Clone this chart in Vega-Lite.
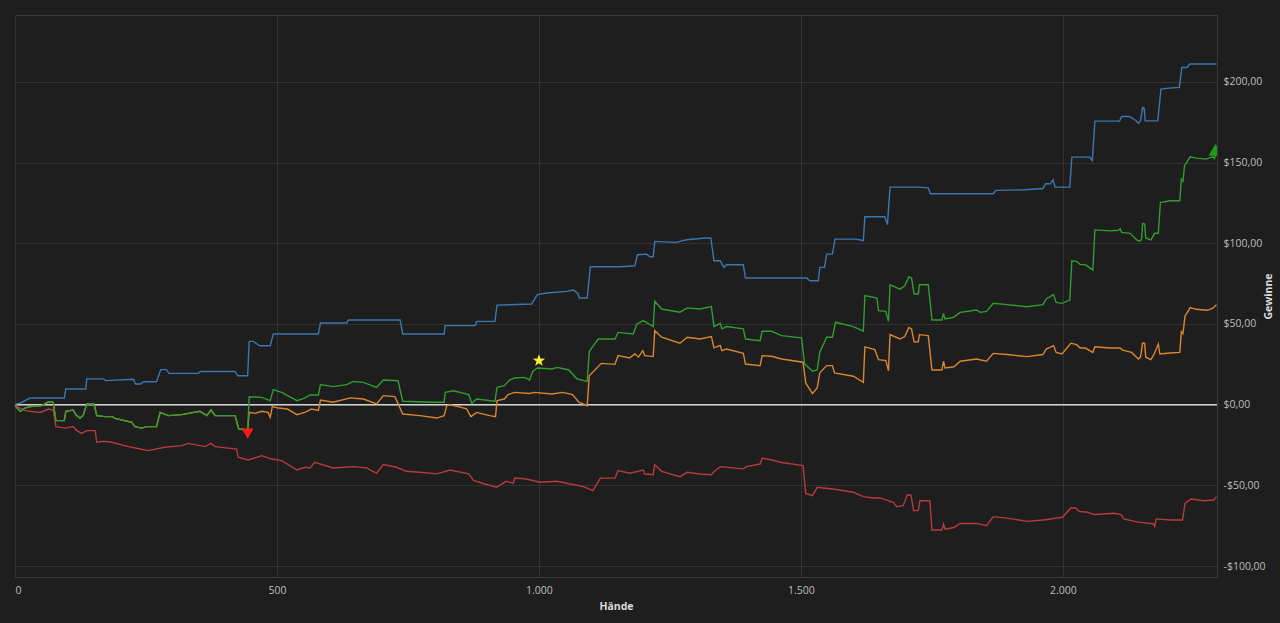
{
  "$schema": "https://vega.github.io/schema/vega-lite/v6.json",
  "width": 1202,
  "height": 562,
  "autosize": "none",
  "padding": {"left": 15, "top": 15, "right": 63, "bottom": 46},
  "background": "#1e1e1e",
  "datasets": {
    "kurven": [
      {"s": "All-in EV", "h": 0, "v": -0.6}, {"s": "All-in EV", "h": 10, "v": -4.1}, {"s": "All-in EV", "h": 19, "v": -2.1}, {"s": "All-in EV", "h": 29, "v": -1.2}, {"s": "All-in EV", "h": 51, "v": -0.6}, {"s": "All-in EV", "h": 64, "v": 1.8}, {"s": "All-in EV", "h": 73, "v": 1.4}, {"s": "All-in EV", "h": 78, "v": -9.9}, {"s": "All-in EV", "h": 94, "v": -9.9}, {"s": "All-in EV", "h": 97, "v": -4.1}, {"s": "All-in EV", "h": 111, "v": -3.3}, {"s": "All-in EV", "h": 116, "v": -6.2}, {"s": "All-in EV", "h": 124, "v": -8.3}, {"s": "All-in EV", "h": 130, "v": -6.8}, {"s": "All-in EV", "h": 137, "v": 0.4}, {"s": "All-in EV", "h": 151, "v": 0.4}, {"s": "All-in EV", "h": 156, "v": -6.8}, {"s": "All-in EV", "h": 172, "v": -7.4}, {"s": "All-in EV", "h": 185, "v": -7.4}, {"s": "All-in EV", "h": 191, "v": -8.5}, {"s": "All-in EV", "h": 223, "v": -11}, {"s": "All-in EV", "h": 229, "v": -13.6}, {"s": "All-in EV", "h": 242, "v": -14.5}, {"s": "All-in EV", "h": 251, "v": -13.6}, {"s": "All-in EV", "h": 270, "v": -13.6}, {"s": "All-in EV", "h": 277, "v": -4.8}, {"s": "All-in EV", "h": 293, "v": -6.8}, {"s": "All-in EV", "h": 318, "v": -6.2}, {"s": "All-in EV", "h": 353, "v": -4.1}, {"s": "All-in EV", "h": 366, "v": -6.8}, {"s": "All-in EV", "h": 374, "v": -3.3}, {"s": "All-in EV", "h": 382, "v": -6.8}, {"s": "All-in EV", "h": 420, "v": -6.8}, {"s": "All-in EV", "h": 427, "v": -15.1}, {"s": "All-in EV", "h": 444, "v": -15.7},
      {"s": "All-in EV", "h": 447, "v": -4.8}, {"s": "All-in EV", "h": 458, "v": -5.4}, {"s": "All-in EV", "h": 471, "v": -4.1}, {"s": "All-in EV", "h": 483, "v": -4.8}, {"s": "All-in EV", "h": 487, "v": -7.9}, {"s": "All-in EV", "h": 491, "v": -1.2}, {"s": "All-in EV", "h": 503, "v": -2.1}, {"s": "All-in EV", "h": 520, "v": -2.7}, {"s": "All-in EV", "h": 538, "v": -6.2}, {"s": "All-in EV", "h": 553, "v": -4.8}, {"s": "All-in EV", "h": 566, "v": -2.7}, {"s": "All-in EV", "h": 579, "v": -3.6}, {"s": "All-in EV", "h": 583, "v": 2.9}, {"s": "All-in EV", "h": 607, "v": 1.5}, {"s": "All-in EV", "h": 640, "v": 4.2}, {"s": "All-in EV", "h": 665, "v": 3.5}, {"s": "All-in EV", "h": 690, "v": 0.4}, {"s": "All-in EV", "h": 703, "v": 5.6}, {"s": "All-in EV", "h": 725, "v": 5}, {"s": "All-in EV", "h": 740, "v": -5.8}, {"s": "All-in EV", "h": 773, "v": -6.8}, {"s": "All-in EV", "h": 805, "v": -8.3}, {"s": "All-in EV", "h": 819, "v": -6.8}, {"s": "All-in EV", "h": 824, "v": -0.6}, {"s": "All-in EV", "h": 830, "v": 0}, {"s": "All-in EV", "h": 862, "v": -2.6}, {"s": "All-in EV", "h": 870, "v": -7.4}, {"s": "All-in EV", "h": 881, "v": -4.8}, {"s": "All-in EV", "h": 906, "v": -6.8}, {"s": "All-in EV", "h": 917, "v": -7.4}, {"s": "All-in EV", "h": 920, "v": 2.5}, {"s": "All-in EV", "h": 934, "v": 3.5}, {"s": "All-in EV", "h": 941, "v": 6.2}, {"s": "All-in EV", "h": 953, "v": 7.6}, {"s": "All-in EV", "h": 982, "v": 6.9}, {"s": "All-in EV", "h": 991, "v": 7.6}, {"s": "All-in EV", "h": 1025, "v": 6.6}, {"s": "All-in EV", "h": 1045, "v": 7.6}, {"s": "All-in EV", "h": 1064, "v": 6.2}, {"s": "All-in EV", "h": 1076, "v": 1.5}, {"s": "All-in EV", "h": 1092, "v": -0.6}, {"s": "All-in EV", "h": 1096, "v": 17.9}, {"s": "All-in EV", "h": 1119, "v": 25.6}, {"s": "All-in EV", "h": 1145, "v": 25}, {"s": "All-in EV", "h": 1151, "v": 30.4}, {"s": "All-in EV", "h": 1173, "v": 29}, {"s": "All-in EV", "h": 1183, "v": 31.4}, {"s": "All-in EV", "h": 1190, "v": 29.5}, {"s": "All-in EV", "h": 1198, "v": 33.5}, {"s": "All-in EV", "h": 1202, "v": 30.4}, {"s": "All-in EV", "h": 1218, "v": 29.8}, {"s": "All-in EV", "h": 1221, "v": 45.9}, {"s": "All-in EV", "h": 1234, "v": 41.8}, {"s": "All-in EV", "h": 1269, "v": 38.1}, {"s": "All-in EV", "h": 1283, "v": 41.8}, {"s": "All-in EV", "h": 1307, "v": 40.7}, {"s": "All-in EV", "h": 1329, "v": 42.2}, {"s": "All-in EV", "h": 1334, "v": 35.2}, {"s": "All-in EV", "h": 1346, "v": 36.7}, {"s": "All-in EV", "h": 1349, "v": 33.5}, {"s": "All-in EV", "h": 1358, "v": 34.5}, {"s": "All-in EV", "h": 1390, "v": 31.9}, {"s": "All-in EV", "h": 1394, "v": 25.2}, {"s": "All-in EV", "h": 1422, "v": 24.2}, {"s": "All-in EV", "h": 1426, "v": 30.4}, {"s": "All-in EV", "h": 1444, "v": 30}, {"s": "All-in EV", "h": 1463, "v": 28.3}, {"s": "All-in EV", "h": 1504, "v": 26.3}, {"s": "All-in EV", "h": 1509, "v": 13.5}, {"s": "All-in EV", "h": 1522, "v": 6.9}, {"s": "All-in EV", "h": 1531, "v": 10.4}, {"s": "All-in EV", "h": 1536, "v": 19.7}, {"s": "All-in EV", "h": 1549, "v": 24.2}, {"s": "All-in EV", "h": 1560, "v": 24.2}, {"s": "All-in EV", "h": 1564, "v": 19.7}, {"s": "All-in EV", "h": 1600, "v": 17.6}, {"s": "All-in EV", "h": 1619, "v": 13.9}, {"s": "All-in EV", "h": 1622, "v": 35.8}, {"s": "All-in EV", "h": 1641, "v": 34.1}, {"s": "All-in EV", "h": 1648, "v": 27.9}, {"s": "All-in EV", "h": 1662, "v": 27.3}, {"s": "All-in EV", "h": 1667, "v": 21}, {"s": "All-in EV", "h": 1670, "v": 43.4}, {"s": "All-in EV", "h": 1689, "v": 40.7}, {"s": "All-in EV", "h": 1698, "v": 42.2}, {"s": "All-in EV", "h": 1706, "v": 47.9}, {"s": "All-in EV", "h": 1711, "v": 47}, {"s": "All-in EV", "h": 1716, "v": 38.9}, {"s": "All-in EV", "h": 1724, "v": 38.9}, {"s": "All-in EV", "h": 1726, "v": 43.4}, {"s": "All-in EV", "h": 1743, "v": 42.8}, {"s": "All-in EV", "h": 1750, "v": 21.5}, {"s": "All-in EV", "h": 1769, "v": 21.5}, {"s": "All-in EV", "h": 1772, "v": 26.9}, {"s": "All-in EV", "h": 1775, "v": 22.7}, {"s": "All-in EV", "h": 1792, "v": 23.5}, {"s": "All-in EV", "h": 1804, "v": 26.9}, {"s": "All-in EV", "h": 1835, "v": 28.3}, {"s": "All-in EV", "h": 1854, "v": 26.9}, {"s": "All-in EV", "h": 1867, "v": 31.8}, {"s": "All-in EV", "h": 1893, "v": 31.1}, {"s": "All-in EV", "h": 1931, "v": 29.8}, {"s": "All-in EV", "h": 1962, "v": 31.1}, {"s": "All-in EV", "h": 1968, "v": 34.5}, {"s": "All-in EV", "h": 1982, "v": 36.6}, {"s": "All-in EV", "h": 1987, "v": 32.4}, {"s": "All-in EV", "h": 1998, "v": 31.4}, {"s": "All-in EV", "h": 2015, "v": 38.1}, {"s": "All-in EV", "h": 2026, "v": 37.2}, {"s": "All-in EV", "h": 2033, "v": 35.1}, {"s": "All-in EV", "h": 2043, "v": 35.1}, {"s": "All-in EV", "h": 2057, "v": 32.4}, {"s": "All-in EV", "h": 2061, "v": 35.9}, {"s": "All-in EV", "h": 2090, "v": 35.1}, {"s": "All-in EV", "h": 2109, "v": 35.1}, {"s": "All-in EV", "h": 2114, "v": 33.8}, {"s": "All-in EV", "h": 2131, "v": 32.4}, {"s": "All-in EV", "h": 2144, "v": 28.3}, {"s": "All-in EV", "h": 2148, "v": 29.5}, {"s": "All-in EV", "h": 2152, "v": 38.2}, {"s": "All-in EV", "h": 2156, "v": 38}, {"s": "All-in EV", "h": 2158, "v": 29.4}, {"s": "All-in EV", "h": 2168, "v": 27.9}, {"s": "All-in EV", "h": 2175, "v": 32}, {"s": "All-in EV", "h": 2182, "v": 37.6}, {"s": "All-in EV", "h": 2185, "v": 31.4}, {"s": "All-in EV", "h": 2204, "v": 32}, {"s": "All-in EV", "h": 2223, "v": 32.4}, {"s": "All-in EV", "h": 2226, "v": 45.2}, {"s": "All-in EV", "h": 2229, "v": 44}, {"s": "All-in EV", "h": 2233, "v": 54.9}, {"s": "All-in EV", "h": 2243, "v": 60.2}, {"s": "All-in EV", "h": 2254, "v": 59.1}, {"s": "All-in EV", "h": 2276, "v": 58.5}, {"s": "All-in EV", "h": 2286, "v": 59.8}, {"s": "All-in EV", "h": 2293, "v": 61.9},

      {"s": "Ohne Showdown", "h": 0, "v": -0.6}, {"s": "Ohne Showdown", "h": 19, "v": -3.7}, {"s": "Ohne Showdown", "h": 48, "v": -4.8}, {"s": "Ohne Showdown", "h": 64, "v": -2.7}, {"s": "Ohne Showdown", "h": 73, "v": -3.3}, {"s": "Ohne Showdown", "h": 78, "v": -13.6}, {"s": "Ohne Showdown", "h": 95, "v": -14.5}, {"s": "Ohne Showdown", "h": 111, "v": -13.6}, {"s": "Ohne Showdown", "h": 118, "v": -16.1}, {"s": "Ohne Showdown", "h": 127, "v": -17.8}, {"s": "Ohne Showdown", "h": 137, "v": -16.1}, {"s": "Ohne Showdown", "h": 153, "v": -16.1}, {"s": "Ohne Showdown", "h": 156, "v": -23.3}, {"s": "Ohne Showdown", "h": 169, "v": -22.7}, {"s": "Ohne Showdown", "h": 185, "v": -23.3}, {"s": "Ohne Showdown", "h": 216, "v": -26}, {"s": "Ohne Showdown", "h": 239, "v": -27.5}, {"s": "Ohne Showdown", "h": 254, "v": -28.5}, {"s": "Ohne Showdown", "h": 286, "v": -26.4}, {"s": "Ohne Showdown", "h": 318, "v": -25.4}, {"s": "Ohne Showdown", "h": 331, "v": -24}, {"s": "Ohne Showdown", "h": 363, "v": -26}, {"s": "Ohne Showdown", "h": 374, "v": -24}, {"s": "Ohne Showdown", "h": 382, "v": -26}, {"s": "Ohne Showdown", "h": 423, "v": -27.5}, {"s": "Ohne Showdown", "h": 426, "v": -32.6}, {"s": "Ohne Showdown", "h": 445, "v": -34.3}, {"s": "Ohne Showdown", "h": 471, "v": -31.6}, {"s": "Ohne Showdown", "h": 490, "v": -33.7}, {"s": "Ohne Showdown", "h": 509, "v": -34.7}, {"s": "Ohne Showdown", "h": 538, "v": -40.5}, {"s": "Ohne Showdown", "h": 553, "v": -38.8}, {"s": "Ohne Showdown", "h": 563, "v": -39.2}, {"s": "Ohne Showdown", "h": 572, "v": -35.7}, {"s": "Ohne Showdown", "h": 607, "v": -39.2}, {"s": "Ohne Showdown", "h": 646, "v": -38.4}, {"s": "Ohne Showdown", "h": 671, "v": -39.2}, {"s": "Ohne Showdown", "h": 690, "v": -42.5}, {"s": "Ohne Showdown", "h": 703, "v": -37.1}, {"s": "Ohne Showdown", "h": 728, "v": -38.8}, {"s": "Ohne Showdown", "h": 747, "v": -41.3}, {"s": "Ohne Showdown", "h": 773, "v": -41.9}, {"s": "Ohne Showdown", "h": 805, "v": -42.9}, {"s": "Ohne Showdown", "h": 830, "v": -40.5}, {"s": "Ohne Showdown", "h": 866, "v": -42.9}, {"s": "Ohne Showdown", "h": 875, "v": -47}, {"s": "Ohne Showdown", "h": 900, "v": -49.5}, {"s": "Ohne Showdown", "h": 919, "v": -51.2}, {"s": "Ohne Showdown", "h": 937, "v": -47.5}, {"s": "Ohne Showdown", "h": 951, "v": -48.7}, {"s": "Ohne Showdown", "h": 954, "v": -45.5}, {"s": "Ohne Showdown", "h": 976, "v": -46.1}, {"s": "Ohne Showdown", "h": 1002, "v": -48.1}, {"s": "Ohne Showdown", "h": 1034, "v": -47.5}, {"s": "Ohne Showdown", "h": 1053, "v": -48.7}, {"s": "Ohne Showdown", "h": 1085, "v": -50.8}, {"s": "Ohne Showdown", "h": 1103, "v": -53.3}, {"s": "Ohne Showdown", "h": 1117, "v": -45.5}, {"s": "Ohne Showdown", "h": 1145, "v": -45.5}, {"s": "Ohne Showdown", "h": 1151, "v": -40.9}, {"s": "Ohne Showdown", "h": 1173, "v": -42.5}, {"s": "Ohne Showdown", "h": 1199, "v": -40.5}, {"s": "Ohne Showdown", "h": 1202, "v": -43}, {"s": "Ohne Showdown", "h": 1218, "v": -43.4}, {"s": "Ohne Showdown", "h": 1221, "v": -37.2}, {"s": "Ohne Showdown", "h": 1234, "v": -41.3}, {"s": "Ohne Showdown", "h": 1269, "v": -44.6}, {"s": "Ohne Showdown", "h": 1283, "v": -41.9}, {"s": "Ohne Showdown", "h": 1307, "v": -43}, {"s": "Ohne Showdown", "h": 1329, "v": -43.4}, {"s": "Ohne Showdown", "h": 1335, "v": -41.3}, {"s": "Ohne Showdown", "h": 1346, "v": -38.4}, {"s": "Ohne Showdown", "h": 1371, "v": -39.2}, {"s": "Ohne Showdown", "h": 1390, "v": -39.8}, {"s": "Ohne Showdown", "h": 1396, "v": -38.4}, {"s": "Ohne Showdown", "h": 1422, "v": -36.8}, {"s": "Ohne Showdown", "h": 1426, "v": -33.1}, {"s": "Ohne Showdown", "h": 1444, "v": -34.3}, {"s": "Ohne Showdown", "h": 1463, "v": -35.8}, {"s": "Ohne Showdown", "h": 1504, "v": -37.8}, {"s": "Ohne Showdown", "h": 1509, "v": -55}, {"s": "Ohne Showdown", "h": 1522, "v": -56.4}, {"s": "Ohne Showdown", "h": 1531, "v": -51.2}, {"s": "Ohne Showdown", "h": 1560, "v": -52.3}, {"s": "Ohne Showdown", "h": 1600, "v": -54.3}, {"s": "Ohne Showdown", "h": 1619, "v": -57}, {"s": "Ohne Showdown", "h": 1638, "v": -57.8}, {"s": "Ohne Showdown", "h": 1651, "v": -57.8}, {"s": "Ohne Showdown", "h": 1676, "v": -60.5}, {"s": "Ohne Showdown", "h": 1683, "v": -63.2}, {"s": "Ohne Showdown", "h": 1695, "v": -62.6}, {"s": "Ohne Showdown", "h": 1703, "v": -55.8}, {"s": "Ohne Showdown", "h": 1710, "v": -56}, {"s": "Ohne Showdown", "h": 1715, "v": -65.7}, {"s": "Ohne Showdown", "h": 1724, "v": -65.5}, {"s": "Ohne Showdown", "h": 1727, "v": -59.5}, {"s": "Ohne Showdown", "h": 1746, "v": -59.5}, {"s": "Ohne Showdown", "h": 1750, "v": -77.7}, {"s": "Ohne Showdown", "h": 1769, "v": -77.7}, {"s": "Ohne Showdown", "h": 1772, "v": -74}, {"s": "Ohne Showdown", "h": 1775, "v": -77.1}, {"s": "Ohne Showdown", "h": 1792, "v": -76.1}, {"s": "Ohne Showdown", "h": 1804, "v": -73.6}, {"s": "Ohne Showdown", "h": 1835, "v": -73.6}, {"s": "Ohne Showdown", "h": 1854, "v": -75}, {"s": "Ohne Showdown", "h": 1867, "v": -69.4}, {"s": "Ohne Showdown", "h": 1893, "v": -70.3}, {"s": "Ohne Showdown", "h": 1931, "v": -72.3}, {"s": "Ohne Showdown", "h": 1962, "v": -71.5}, {"s": "Ohne Showdown", "h": 1999, "v": -69.8}, {"s": "Ohne Showdown", "h": 2015, "v": -64}, {"s": "Ohne Showdown", "h": 2024, "v": -64}, {"s": "Ohne Showdown", "h": 2031, "v": -66.1}, {"s": "Ohne Showdown", "h": 2047, "v": -66.7}, {"s": "Ohne Showdown", "h": 2060, "v": -68.1}, {"s": "Ohne Showdown", "h": 2098, "v": -67.3}, {"s": "Ohne Showdown", "h": 2111, "v": -68.1}, {"s": "Ohne Showdown", "h": 2116, "v": -70.8}, {"s": "Ohne Showdown", "h": 2143, "v": -72.8}, {"s": "Ohne Showdown", "h": 2172, "v": -73.8}, {"s": "Ohne Showdown", "h": 2175, "v": -75.5}, {"s": "Ohne Showdown", "h": 2178, "v": -70.8}, {"s": "Ohne Showdown", "h": 2206, "v": -71.5}, {"s": "Ohne Showdown", "h": 2228, "v": -71.5}, {"s": "Ohne Showdown", "h": 2233, "v": -61.2}, {"s": "Ohne Showdown", "h": 2244, "v": -58.5}, {"s": "Ohne Showdown", "h": 2269, "v": -59.5}, {"s": "Ohne Showdown", "h": 2288, "v": -59.1}, {"s": "Ohne Showdown", "h": 2293, "v": -57},

      {"s": "Showdown", "h": 0, "v": 0}, {"s": "Showdown", "h": 13, "v": 1.4}, {"s": "Showdown", "h": 18, "v": 2.4}, {"s": "Showdown", "h": 29, "v": 4.1}, {"s": "Showdown", "h": 94, "v": 4.1}, {"s": "Showdown", "h": 97, "v": 9.7}, {"s": "Showdown", "h": 135, "v": 9.7}, {"s": "Showdown", "h": 137, "v": 16}, {"s": "Showdown", "h": 169, "v": 16}, {"s": "Showdown", "h": 173, "v": 14.9}, {"s": "Showdown", "h": 226, "v": 15.7}, {"s": "Showdown", "h": 230, "v": 12.8}, {"s": "Showdown", "h": 240, "v": 12.8}, {"s": "Showdown", "h": 245, "v": 14.2}, {"s": "Showdown", "h": 270, "v": 14.2}, {"s": "Showdown", "h": 278, "v": 21.7}, {"s": "Showdown", "h": 289, "v": 21.7}, {"s": "Showdown", "h": 294, "v": 19.4}, {"s": "Showdown", "h": 350, "v": 19.4}, {"s": "Showdown", "h": 354, "v": 20.6}, {"s": "Showdown", "h": 420, "v": 20.6}, {"s": "Showdown", "h": 425, "v": 17.9}, {"s": "Showdown", "h": 444, "v": 17.9}, {"s": "Showdown", "h": 447, "v": 39.2}, {"s": "Showdown", "h": 455, "v": 39.2}, {"s": "Showdown", "h": 467, "v": 36.5}, {"s": "Showdown", "h": 487, "v": 36.5}, {"s": "Showdown", "h": 493, "v": 43.8}, {"s": "Showdown", "h": 579, "v": 43.8}, {"s": "Showdown", "h": 583, "v": 50.6}, {"s": "Showdown", "h": 633, "v": 50.6}, {"s": "Showdown", "h": 636, "v": 52.5}, {"s": "Showdown", "h": 735, "v": 52.5}, {"s": "Showdown", "h": 740, "v": 43.8}, {"s": "Showdown", "h": 819, "v": 43.8}, {"s": "Showdown", "h": 821, "v": 49}, {"s": "Showdown", "h": 878, "v": 49}, {"s": "Showdown", "h": 881, "v": 51.6}, {"s": "Showdown", "h": 916, "v": 51.6}, {"s": "Showdown", "h": 920, "v": 61.7}, {"s": "Showdown", "h": 986, "v": 62.4}, {"s": "Showdown", "h": 997, "v": 68.2}, {"s": "Showdown", "h": 1015, "v": 69.2}, {"s": "Showdown", "h": 1053, "v": 70.2}, {"s": "Showdown", "h": 1066, "v": 71}, {"s": "Showdown", "h": 1075, "v": 68.6}, {"s": "Showdown", "h": 1077, "v": 66.1}, {"s": "Showdown", "h": 1092, "v": 66.1}, {"s": "Showdown", "h": 1098, "v": 85.5}, {"s": "Showdown", "h": 1155, "v": 85.5}, {"s": "Showdown", "h": 1183, "v": 86.1}, {"s": "Showdown", "h": 1188, "v": 92.9}, {"s": "Showdown", "h": 1205, "v": 93.3}, {"s": "Showdown", "h": 1212, "v": 91.7}, {"s": "Showdown", "h": 1218, "v": 91.7}, {"s": "Showdown", "h": 1221, "v": 101.2}, {"s": "Showdown", "h": 1262, "v": 100.6}, {"s": "Showdown", "h": 1282, "v": 102.2}, {"s": "Showdown", "h": 1317, "v": 103.3}, {"s": "Showdown", "h": 1328, "v": 103.3}, {"s": "Showdown", "h": 1334, "v": 89.2}, {"s": "Showdown", "h": 1346, "v": 89.2}, {"s": "Showdown", "h": 1353, "v": 85.1}, {"s": "Showdown", "h": 1358, "v": 86.7}, {"s": "Showdown", "h": 1390, "v": 86.7}, {"s": "Showdown", "h": 1394, "v": 78.5}, {"s": "Showdown", "h": 1511, "v": 78.5}, {"s": "Showdown", "h": 1517, "v": 76.8}, {"s": "Showdown", "h": 1533, "v": 76.8}, {"s": "Showdown", "h": 1536, "v": 85.1}, {"s": "Showdown", "h": 1545, "v": 85.1}, {"s": "Showdown", "h": 1549, "v": 93.3}, {"s": "Showdown", "h": 1560, "v": 93.3}, {"s": "Showdown", "h": 1565, "v": 102.6}, {"s": "Showdown", "h": 1606, "v": 102.6}, {"s": "Showdown", "h": 1619, "v": 101.6}, {"s": "Showdown", "h": 1622, "v": 116.5}, {"s": "Showdown", "h": 1660, "v": 116.5}, {"s": "Showdown", "h": 1665, "v": 111.6}, {"s": "Showdown", "h": 1670, "v": 134.8}, {"s": "Showdown", "h": 1724, "v": 134.8}, {"s": "Showdown", "h": 1743, "v": 134.4}, {"s": "Showdown", "h": 1747, "v": 130.7}, {"s": "Showdown", "h": 1867, "v": 130.7}, {"s": "Showdown", "h": 1872, "v": 132.8}, {"s": "Showdown", "h": 1927, "v": 133.2}, {"s": "Showdown", "h": 1962, "v": 134}, {"s": "Showdown", "h": 1967, "v": 136.9}, {"s": "Showdown", "h": 1976, "v": 136.9}, {"s": "Showdown", "h": 1981, "v": 139.4}, {"s": "Showdown", "h": 1985, "v": 134.8}, {"s": "Showdown", "h": 2013, "v": 134.8}, {"s": "Showdown", "h": 2017, "v": 153.4}, {"s": "Showdown", "h": 2051, "v": 153.4}, {"s": "Showdown", "h": 2056, "v": 151.3}, {"s": "Showdown", "h": 2061, "v": 175.7}, {"s": "Showdown", "h": 2108, "v": 175.7}, {"s": "Showdown", "h": 2112, "v": 178.6}, {"s": "Showdown", "h": 2127, "v": 178.6}, {"s": "Showdown", "h": 2139, "v": 176.1}, {"s": "Showdown", "h": 2144, "v": 174.5}, {"s": "Showdown", "h": 2148, "v": 176}, {"s": "Showdown", "h": 2152, "v": 184.2}, {"s": "Showdown", "h": 2155, "v": 183.8}, {"s": "Showdown", "h": 2157, "v": 175.9}, {"s": "Showdown", "h": 2181, "v": 175.9}, {"s": "Showdown", "h": 2187, "v": 195.6}, {"s": "Showdown", "h": 2203, "v": 196.2}, {"s": "Showdown", "h": 2222, "v": 196.6}, {"s": "Showdown", "h": 2227, "v": 209}, {"s": "Showdown", "h": 2237, "v": 209}, {"s": "Showdown", "h": 2242, "v": 211.1}, {"s": "Showdown", "h": 2293, "v": 211.1},

      {"s": "Gewinne", "h": 0, "v": -0.6}, {"s": "Gewinne", "h": 10, "v": -4.1}, {"s": "Gewinne", "h": 19, "v": -2.1}, {"s": "Gewinne", "h": 29, "v": -1.2}, {"s": "Gewinne", "h": 51, "v": -0.6}, {"s": "Gewinne", "h": 64, "v": 1.8}, {"s": "Gewinne", "h": 73, "v": 1.4}, {"s": "Gewinne", "h": 78, "v": -9.9}, {"s": "Gewinne", "h": 94, "v": -9.9}, {"s": "Gewinne", "h": 97, "v": -4.1}, {"s": "Gewinne", "h": 111, "v": -3.3}, {"s": "Gewinne", "h": 116, "v": -6.2}, {"s": "Gewinne", "h": 124, "v": -8.3}, {"s": "Gewinne", "h": 130, "v": -6.8}, {"s": "Gewinne", "h": 137, "v": 0.4}, {"s": "Gewinne", "h": 151, "v": 0.4}, {"s": "Gewinne", "h": 156, "v": -6.8}, {"s": "Gewinne", "h": 172, "v": -7.4}, {"s": "Gewinne", "h": 185, "v": -7.4}, {"s": "Gewinne", "h": 191, "v": -8.5}, {"s": "Gewinne", "h": 223, "v": -11}, {"s": "Gewinne", "h": 229, "v": -13.6}, {"s": "Gewinne", "h": 242, "v": -14.5}, {"s": "Gewinne", "h": 251, "v": -13.6}, {"s": "Gewinne", "h": 270, "v": -13.6}, {"s": "Gewinne", "h": 277, "v": -4.8}, {"s": "Gewinne", "h": 293, "v": -6.8}, {"s": "Gewinne", "h": 318, "v": -6.2}, {"s": "Gewinne", "h": 353, "v": -4.1}, {"s": "Gewinne", "h": 366, "v": -6.8}, {"s": "Gewinne", "h": 374, "v": -3.3}, {"s": "Gewinne", "h": 382, "v": -6.8}, {"s": "Gewinne", "h": 420, "v": -6.8}, {"s": "Gewinne", "h": 427, "v": -15.1}, {"s": "Gewinne", "h": 444, "v": -15.7},
      {"s": "Gewinne", "h": 447, "v": 4.9}, {"s": "Gewinne", "h": 471, "v": 4.5}, {"s": "Gewinne", "h": 487, "v": 2.5}, {"s": "Gewinne", "h": 493, "v": 9.3}, {"s": "Gewinne", "h": 509, "v": 7.6}, {"s": "Gewinne", "h": 538, "v": 2.5}, {"s": "Gewinne", "h": 553, "v": 4.1}, {"s": "Gewinne", "h": 563, "v": 6}, {"s": "Gewinne", "h": 579, "v": 6}, {"s": "Gewinne", "h": 583, "v": 12.4}, {"s": "Gewinne", "h": 607, "v": 11.2}, {"s": "Gewinne", "h": 633, "v": 12.4}, {"s": "Gewinne", "h": 646, "v": 14.4}, {"s": "Gewinne", "h": 665, "v": 13.8}, {"s": "Gewinne", "h": 690, "v": 10.7}, {"s": "Gewinne", "h": 703, "v": 15.3}, {"s": "Gewinne", "h": 731, "v": 14.8}, {"s": "Gewinne", "h": 740, "v": 2.1}, {"s": "Gewinne", "h": 798, "v": 1.5}, {"s": "Gewinne", "h": 819, "v": 1.5}, {"s": "Gewinne", "h": 821, "v": 7.6}, {"s": "Gewinne", "h": 837, "v": 8.6}, {"s": "Gewinne", "h": 866, "v": 6.2}, {"s": "Gewinne", "h": 872, "v": 0.8}, {"s": "Gewinne", "h": 881, "v": 3.5}, {"s": "Gewinne", "h": 916, "v": 2.1}, {"s": "Gewinne", "h": 920, "v": 10.7}, {"s": "Gewinne", "h": 934, "v": 11.8}, {"s": "Gewinne", "h": 944, "v": 15.3}, {"s": "Gewinne", "h": 953, "v": 16.5}, {"s": "Gewinne", "h": 972, "v": 16.9}, {"s": "Gewinne", "h": 982, "v": 15.3}, {"s": "Gewinne", "h": 988, "v": 20.6}, {"s": "Gewinne", "h": 997, "v": 22.7}, {"s": "Gewinne", "h": 1025, "v": 22.1}, {"s": "Gewinne", "h": 1035, "v": 23.1}, {"s": "Gewinne", "h": 1057, "v": 21.5}, {"s": "Gewinne", "h": 1073, "v": 15.9}, {"s": "Gewinne", "h": 1092, "v": 14.4}, {"s": "Gewinne", "h": 1096, "v": 33}, {"s": "Gewinne", "h": 1113, "v": 40.7}, {"s": "Gewinne", "h": 1145, "v": 40.7}, {"s": "Gewinne", "h": 1151, "v": 44.8}, {"s": "Gewinne", "h": 1180, "v": 43.8}, {"s": "Gewinne", "h": 1187, "v": 50}, {"s": "Gewinne", "h": 1199, "v": 52.1}, {"s": "Gewinne", "h": 1218, "v": 48.4}, {"s": "Gewinne", "h": 1221, "v": 64.1}, {"s": "Gewinne", "h": 1234, "v": 59.3}, {"s": "Gewinne", "h": 1269, "v": 57.3}, {"s": "Gewinne", "h": 1283, "v": 60}, {"s": "Gewinne", "h": 1307, "v": 59.3}, {"s": "Gewinne", "h": 1329, "v": 60.8}, {"s": "Gewinne", "h": 1334, "v": 48.4}, {"s": "Gewinne", "h": 1346, "v": 50.4}, {"s": "Gewinne", "h": 1349, "v": 47}, {"s": "Gewinne", "h": 1358, "v": 48.4}, {"s": "Gewinne", "h": 1390, "v": 47}, {"s": "Gewinne", "h": 1394, "v": 40.7}, {"s": "Gewinne", "h": 1422, "v": 39.7}, {"s": "Gewinne", "h": 1426, "v": 45.5}, {"s": "Gewinne", "h": 1444, "v": 45.5}, {"s": "Gewinne", "h": 1463, "v": 42.8}, {"s": "Gewinne", "h": 1501, "v": 41.4}, {"s": "Gewinne", "h": 1507, "v": 25.3}, {"s": "Gewinne", "h": 1522, "v": 20.7}, {"s": "Gewinne", "h": 1531, "v": 21.5}, {"s": "Gewinne", "h": 1536, "v": 32.5}, {"s": "Gewinne", "h": 1549, "v": 41.8}, {"s": "Gewinne", "h": 1560, "v": 41.8}, {"s": "Gewinne", "h": 1566, "v": 51.1}, {"s": "Gewinne", "h": 1600, "v": 48.4}, {"s": "Gewinne", "h": 1619, "v": 45.5}, {"s": "Gewinne", "h": 1622, "v": 67.6}, {"s": "Gewinne", "h": 1645, "v": 66.1}, {"s": "Gewinne", "h": 1648, "v": 58.3}, {"s": "Gewinne", "h": 1662, "v": 57.8}, {"s": "Gewinne", "h": 1667, "v": 51.6}, {"s": "Gewinne", "h": 1670, "v": 74.3}, {"s": "Gewinne", "h": 1689, "v": 71.6}, {"s": "Gewinne", "h": 1698, "v": 73.7}, {"s": "Gewinne", "h": 1706, "v": 79.3}, {"s": "Gewinne", "h": 1711, "v": 78.5}, {"s": "Gewinne", "h": 1716, "v": 68.6}, {"s": "Gewinne", "h": 1724, "v": 68.6}, {"s": "Gewinne", "h": 1726, "v": 74.3}, {"s": "Gewinne", "h": 1743, "v": 74.3}, {"s": "Gewinne", "h": 1750, "v": 52.5}, {"s": "Gewinne", "h": 1769, "v": 52.5}, {"s": "Gewinne", "h": 1772, "v": 56.6}, {"s": "Gewinne", "h": 1775, "v": 53.1}, {"s": "Gewinne", "h": 1791, "v": 54.1}, {"s": "Gewinne", "h": 1804, "v": 57.2}, {"s": "Gewinne", "h": 1835, "v": 58.7}, {"s": "Gewinne", "h": 1842, "v": 57.2}, {"s": "Gewinne", "h": 1854, "v": 57.8}, {"s": "Gewinne", "h": 1867, "v": 62.8}, {"s": "Gewinne", "h": 1893, "v": 62}, {"s": "Gewinne", "h": 1931, "v": 60.7}, {"s": "Gewinne", "h": 1962, "v": 62}, {"s": "Gewinne", "h": 1968, "v": 65.5}, {"s": "Gewinne", "h": 1982, "v": 68.2}, {"s": "Gewinne", "h": 1987, "v": 63.4}, {"s": "Gewinne", "h": 1998, "v": 62.8}, {"s": "Gewinne", "h": 2013, "v": 64.8}, {"s": "Gewinne", "h": 2017, "v": 89.2}, {"s": "Gewinne", "h": 2026, "v": 88.8}, {"s": "Gewinne", "h": 2033, "v": 86.8}, {"s": "Gewinne", "h": 2043, "v": 86.8}, {"s": "Gewinne", "h": 2057, "v": 83.4}, {"s": "Gewinne", "h": 2061, "v": 108.3}, {"s": "Gewinne", "h": 2090, "v": 107.7}, {"s": "Gewinne", "h": 2106, "v": 108.1}, {"s": "Gewinne", "h": 2109, "v": 109}, {"s": "Gewinne", "h": 2112, "v": 106.8}, {"s": "Gewinne", "h": 2128, "v": 106.2}, {"s": "Gewinne", "h": 2141, "v": 102.1}, {"s": "Gewinne", "h": 2146, "v": 101.2}, {"s": "Gewinne", "h": 2150, "v": 102.5}, {"s": "Gewinne", "h": 2152, "v": 112.3}, {"s": "Gewinne", "h": 2156, "v": 112}, {"s": "Gewinne", "h": 2158, "v": 103.3}, {"s": "Gewinne", "h": 2168, "v": 102.1}, {"s": "Gewinne", "h": 2175, "v": 106.2}, {"s": "Gewinne", "h": 2182, "v": 106.2}, {"s": "Gewinne", "h": 2186, "v": 125.3}, {"s": "Gewinne", "h": 2204, "v": 126.4}, {"s": "Gewinne", "h": 2223, "v": 126.4}, {"s": "Gewinne", "h": 2226, "v": 139.8}, {"s": "Gewinne", "h": 2229, "v": 138.5}, {"s": "Gewinne", "h": 2232, "v": 148.1}, {"s": "Gewinne", "h": 2243, "v": 153.6}, {"s": "Gewinne", "h": 2254, "v": 152.8}, {"s": "Gewinne", "h": 2273, "v": 152.2}, {"s": "Gewinne", "h": 2286, "v": 153.6}, {"s": "Gewinne", "h": 2289, "v": 152.5}, {"s": "Gewinne", "h": 2293, "v": 156.3}
    ],
    "marker": [
      {"art": "tief", "h": 444, "v": -18},
      {"art": "stern", "h": 1000, "v": 27.3},
      {"art": "ende", "h": 2291, "v": 158}
    ],
    "null": [{"v": 0}]
  },
  "layer": [
    {
      "data": {"name": "null"},
      "mark": {"type": "rule", "color": "#d4d4d4", "strokeWidth": 1.5},
      "encoding": {
        "y": {
          "field": "v",
          "type": "quantitative",
          "scale": {"domain": [-106.8, 241.5], "nice": false, "zero": false},
          "axis": {
            "title": "Gewinne",
            "orient": "right",
            "values": [-100, -50, 0, 50, 100, 150, 200],
            "format": "$,.2f",
            "grid": true,
            "ticks": false,
            "labelPadding": 6,
            "titleAngle": 270,
            "titlePadding": 8
          }
        }
      }
    },
    {
      "data": {"name": "kurven"},
      "mark": {"type": "line", "strokeWidth": 1.4, "interpolate": "linear"},
      "encoding": {
        "x": {
          "field": "h",
          "type": "quantitative",
          "scale": {"domain": [0, 2294], "nice": false, "zero": false},
          "axis": {
            "title": "Hände",
            "orient": "bottom",
            "values": [0, 500, 1000, 1500, 2000],
            "format": ",d",
            "grid": true,
            "ticks": false,
            "labelPadding": 8,
            "titlePadding": 6
          }
        },
        "y": {"field": "v", "type": "quantitative"},
        "color": {
          "field": "s",
          "type": "nominal",
          "scale": {
            "domain": ["All-in EV", "Ohne Showdown", "Showdown", "Gewinne"],
            "range": ["#d9862e", "#b63b3b", "#3b77b0", "#2f9e2f"]
          },
          "legend": null
        }
      }
    },
    {
      "data": {"name": "marker"},
      "mark": {"type": "point", "filled": true, "opacity": 1, "clip": true},
      "encoding": {
        "x": {"field": "h", "type": "quantitative"},
        "y": {"field": "v", "type": "quantitative"},
        "shape": {
          "field": "art",
          "type": "nominal",
          "scale": {
            "domain": ["tief", "stern", "ende"],
            "range": ["triangle-down", "M0,-1L0.235,-0.324L0.951,-0.309L0.38,0.124L0.588,0.809L0,0.4L-0.588,0.809L-0.38,0.124L-0.951,-0.309L-0.235,-0.324Z", "triangle-up"]
          },
          "legend": null
        },
        "size": {
          "field": "art",
          "type": "nominal",
          "scale": {"domain": ["tief", "stern", "ende"], "range": [140, 190, 140]},
          "legend": null
        },
        "fill": {
          "field": "art",
          "type": "nominal",
          "scale": {"domain": ["tief", "stern", "ende"], "range": ["#ff1a1a", "#ffee33", "#1f9a1f"]},
          "legend": null
        }
      }
    }
  ],
  "resolve": {"scale": {"color": "independent", "fill": "independent"}},
  "config": {
    "locale": {
      "number": {"decimal": ",", "thousands": ".", "grouping": [3], "currency": ["$", ""], "minus": "-"}
    },
    "view": {"stroke": "#3a3a3a", "strokeWidth": 1},
    "font": "Open Sans",
    "axis": {
      "gridColor": "#333333",
      "gridWidth": 1,
      "domainColor": "#3a3a3a",
      "labelColor": "#bdbdbd",
      "labelFont": "Open Sans",
      "labelFontSize": 10.5,
      "titleColor": "#dcdcdc",
      "titleFont": "Open Sans",
      "titleFontSize": 10.5,
      "titleFontWeight": "bold"
    }
  }
}
